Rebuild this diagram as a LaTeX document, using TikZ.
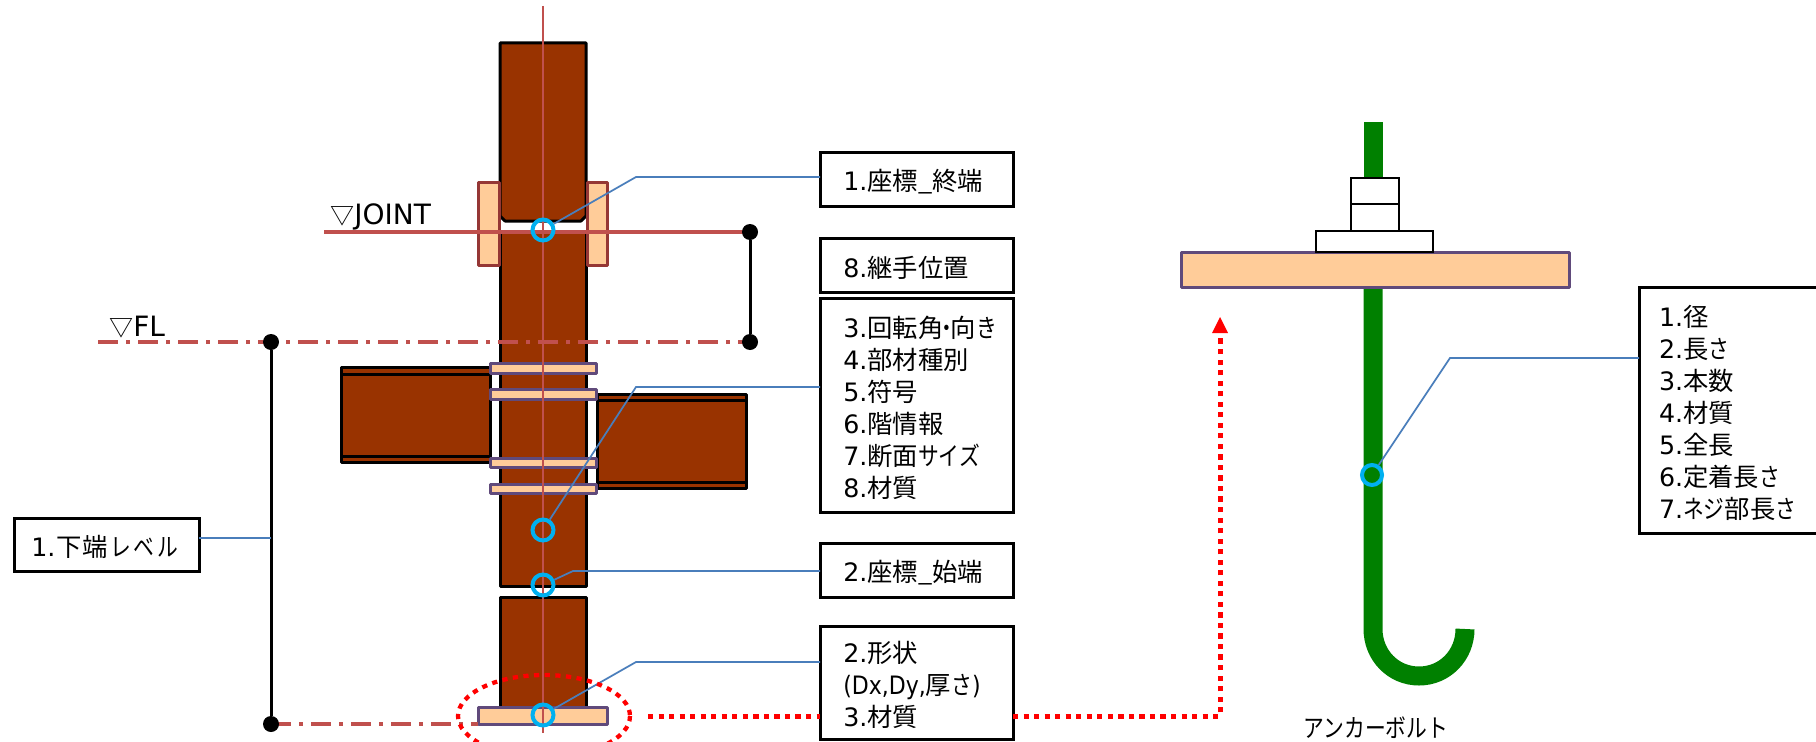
\documentclass[tikz,border=0pt]{standalone}
\usepackage{fontspec}
\setmainfont{DejaVu Sans}
\newfontfamily\jp{Noto Sans CJK JP}
\newfontfamily\kn[FakeStretch=0.82]{Noto Sans CJK JP}
\newfontfamily\narrowlatin[FakeStretch=0.87]{DejaVu Sans}
\usetikzlibrary{positioning,calc}
\definecolor{steelbrown}{HTML}{993300}
\definecolor{plateorange}{HTML}{FFCC99}
\definecolor{platepurple}{HTML}{604A7B}
\definecolor{splicered}{HTML}{953735}
\definecolor{axisred}{HTML}{C0504D}
\definecolor{leaderblue}{HTML}{4A7EBB}
\definecolor{pickcyan}{HTML}{00B0F0}
\definecolor{boltgreen}{HTML}{008000}
\tikzset{
    steel/.style={fill=steelbrown, draw=black, line width=2.25pt, line join=round},
    hplate/.style={fill=plateorange, draw=platepurple, line width=2.25pt, line join=round},
    splice/.style={fill=plateorange, draw=splicered, line width=2.25pt, line join=round},
    axisline/.style={axisred, line width=1.5pt},
    levelline/.style={axisred, line width=2.3pt, dash pattern=on 15pt off 6pt on 3pt off 6pt},
    dimline/.style={black, line width=2.25pt},
    leader/.style={leaderblue, line width=1.3pt},
    pick/.style={circle, draw=pickcyan, line width=3pt, minimum size=15.75pt, inner sep=0pt},
    dimdot/.style={circle, fill=black, minimum size=12pt, inner sep=0pt},
    zoomline/.style={red, line width=3.75pt, dash pattern=on 3.9pt off 4pt},
    zoomring/.style={red, line width=3.2pt, dash pattern=on 3.9pt off 4.1pt},
    infobox/.style={draw=black, fill=white, line width=2.25pt, anchor=north west, align=left,
                    outer sep=0pt, inner ysep=0pt, inner xsep=17.5pt, text width=109.75pt,
                    font=\fontsize{19}{24}\selectfont, execute at begin node={\rule{0pt}{20pt}}},
    plainlabel/.style={font=\fontsize{21}{24}\selectfont, inner sep=0pt},
    nutbox/.style={fill=white, draw=black, line width=2.1pt},
    boltline/.style={boltgreen, line width=14.25pt}
}
\begin{document}
\begin{tikzpicture}[x=0.75pt,y=-0.75pt]
    \useasboundingbox (0,0) rectangle (1816,742);

    \path [fill=steelbrown, draw=black, line width=2.25pt, line join=round]
          (500,43) -- (586,43) -- (586,216) -- (581,221) -- (505,221) -- (500,216) -- cycle;
    \draw [steel] (500,232) rectangle (586,586);
    \draw [steel] (500,597) rectangle (586,707);

    \draw [splice] (478,182) rectangle (499,265);
    \draw [splice] (587,182) rectangle (607,265);

    \draw [steel] (341,367) rectangle (490,462);
    \draw [black, line width=2.25pt] (341,374) -- (490,374);
    \draw [black, line width=2.25pt] (341,456) -- (490,456);
    \draw [steel] (597,394) rectangle (746,488);
    \draw [black, line width=2.25pt] (597,400) -- (746,400);
    \draw [black, line width=2.25pt] (597,482) -- (746,482);

    \draw [hplate] (490,363) rectangle (596,373);
    \draw [hplate] (490,389) rectangle (596,399);
    \draw [hplate] (490,458) rectangle (596,467);
    \draw [hplate] (490,484) rectangle (596,493);
    \draw [hplate] (478,707) rectangle (607,724);

    \draw [axisline] (543,6) -- (543,733);
    \draw [axisred, line width=2.3pt] (324,232) -- (750,232);
    \draw [levelline] (98,342) -- (750,342);
    \draw [levelline] (271,724) -- (478,724);

    \node [dimdot] (jointdot) at (750,232) {};
    \node [dimdot] (fldot2)   at (750,342) {};
    \node [dimdot] (fldot1)   at (271,342) {};
    \node [dimdot] (basedot)  at (271,724) {};
    \draw [dimline] (jointdot) -- (fldot2);
    \draw [dimline] (fldot1) -- (basedot);

    \node [plainlabel, anchor=west] (jointlabel) at (330,217) {{\jp\fontsize{18}{24}\selectfont ▽}JOINT};
    \node [plainlabel, anchor=west] (fllabel)    at (109,327) {{\jp\fontsize{18}{24}\selectfont ▽}FL};

    \node [pick] (pickend)   at (543,230) {};
    \node [pick] (picksec)   at (543,530) {};
    \node [pick] (pickstart) at (543,585) {};
    \node [pick] (pickbase)  at (543,715) {};

    \node [infobox, minimum height=40.5pt] (boxend) at (820,152) {1.{\jp 座標\_終端}};
    \node [infobox, minimum height=40.5pt] (boxjoint) at (820,238) {8.{\jp 継手位置}};
    \node [infobox, minimum height=160.5pt] (boxsec) at (820,298)
          {3.{\jp 回転角\kern-5pt{\kn ・}\kern-5pt 向{\kn き}}\\4.{\jp 部材種別}\\5.{\jp 符号}\\6.{\jp 階情報}\\7.{\jp 断面{\kn サイズ}}\\8.{\jp 材質}};
    \node [infobox, minimum height=41pt] (boxstart) at (820,543) {2.{\jp 座標\_始端}};
    \node [infobox, minimum height=85pt] (boxbase) at (820,626)
          {2.{\jp 形状}\\{\narrowlatin (Dx,Dy,}{\jp 厚{\kn さ}}{\narrowlatin )}\\3.{\jp 材質}};
    \node [infobox, minimum height=40pt, text width=113pt, inner xsep=13pt] (boxlevel) at (14,518)
          {1.\kern1pt{\jp 下端}{\kn\kern2pt レ\kern2pt ベ\kern2pt ル}};

    \coordinate (kneeend) at (636,177);
    \coordinate (kneesec) at (636,387);
    \coordinate (kneestart) at (573,571);
    \coordinate (kneebase) at (636,662);
    \draw [leader] (pickend) -- (kneeend) -- (kneeend -| boxend.west);
    \draw [leader] (picksec) -- (kneesec) -- (kneesec -| boxsec.west);
    \draw [leader] (pickstart) -- (kneestart) -- (kneestart -| boxstart.west);
    \draw [leader] (pickbase) -- (kneebase) -- (kneebase -| boxbase.west);
    \draw [leader] ($(jointdot)!0.28!(fldot2)$) -- ($(jointdot)!0.28!(fldot2)$ -| boxjoint.west);
    \draw [leader] (boxlevel.east |- 0,538) -- (271,538);

    \draw [zoomring] (544,716) ellipse [x radius=86, y radius=41];
    \draw [zoomline] (648,716) -- (boxbase.west |- 0,716);
    \draw [zoomline] (boxbase.east |- 0,716) -- (1220,716) -- (1220,336);
    \fill [red] (1220,317) -- (1228,333) -- (1212,333) -- cycle;

    \draw [boltline] (1373,122) -- (1373,252);
    \draw [boltline] (1373,287) -- (1373,629) .. controls (1373,655) and (1393,676) .. (1419,676)
                     .. controls (1445,676) and (1465,655) .. (1465,629);
    \draw [hplate] (1181,252) rectangle (1569,287);
    \draw [nutbox] (1351,178) rectangle (1399,233);
    \draw [nutbox] (1351,204) -- (1399,204);
    \draw [nutbox] (1316,231) rectangle (1433,252);

    \node [pick, minimum size=15pt] (pickbolt) at (1372,475) {};
    \node [infobox, minimum height=185pt, text width=120pt, inner xsep=15pt] (boxbolt) at (1639,287)
          {1.{\jp 径}\\2.{\jp 長{\kn さ}}\\3.{\jp 本数}\\4.{\jp 材質}\\5.{\jp 全長}\\6.{\jp 定着長{\kn さ}}\\7.{\kn ネジ}{\jp 部長{\kn さ}}};
    \coordinate (kneebolt) at (1450,358);
    \draw [leader] (pickbolt) -- (kneebolt) -- (kneebolt -| boxbolt.west);

    \node [inner sep=0pt, font=\fontsize{19}{24}\selectfont, anchor=center] (boltlabel) at (1376,728) {\kn アンカーボルト};
\end{tikzpicture}
\end{document}
